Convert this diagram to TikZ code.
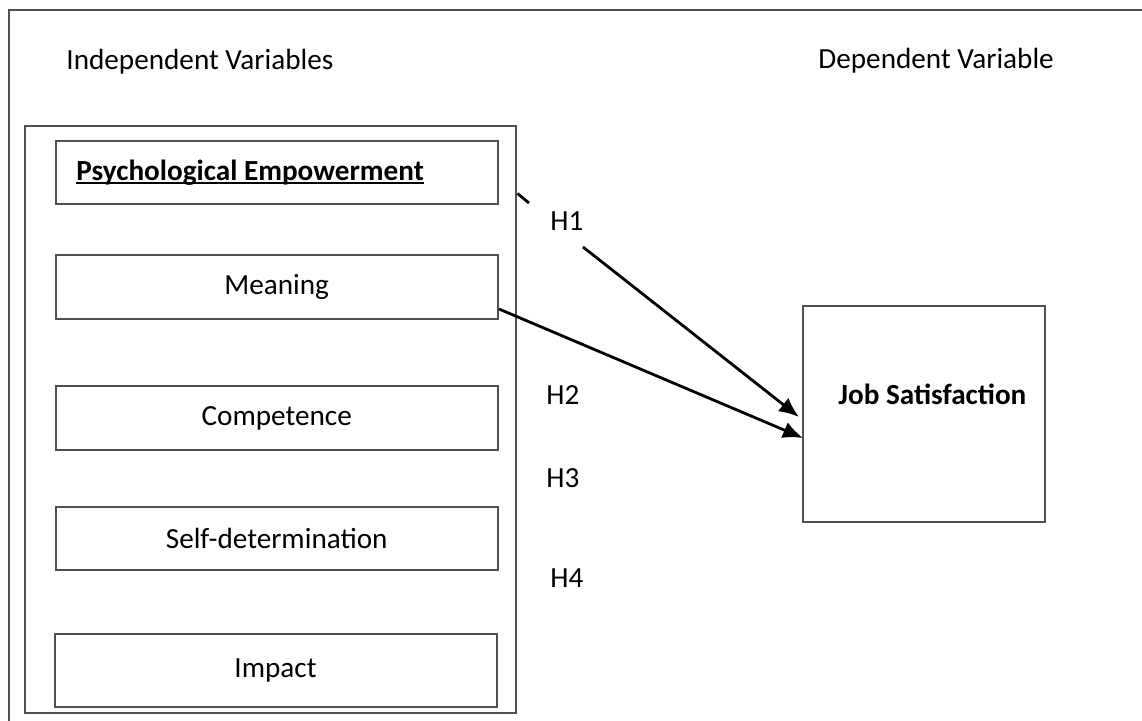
\documentclass[tikz,border=0pt]{standalone}
\usepackage{fontspec}
\setmainfont{Carlito}
\usetikzlibrary{arrows.meta}
\definecolor{boxgray}{RGB}{80,80,80}
\begin{document}
\begin{tikzpicture}[x=0.5pt,y=-0.5pt,
  txt/.style={font=\fontsize{14.6}{17}\selectfont, inner sep=0pt},
  lbl/.style={txt, anchor=base west},
  box/.style={draw=boxgray, line width=1pt, inner sep=0pt, txt, minimum width=221pt, minimum height=32pt},
  conn/.style={line width=1.4pt, draw=black, -{Latex[length=10pt,width=8.5pt]}},
  plainconn/.style={line width=1.4pt, draw=black}]
\clip (0,0) rectangle (1142,720);
% outer frame (runs past the right and bottom edges)
\draw[draw=boxgray, line width=1pt] (9,10) rectangle (1170,750);
% headings
\node[lbl] (indep) at (66,69) {Independent Variables};
\node[lbl] (dep) at (818,68) {Dependent Variable};
% big container
\node[draw=boxgray, line width=1pt, minimum width=245.5pt, minimum height=293.5pt, inner sep=0pt] (big) at (270.5,419.8) {};
% inner boxes
\node[box, minimum height=31.5pt] (pe) at (276.7,172.7) {};
\node[lbl, font=\fontsize{14.6}{17}\selectfont\bfseries] (pelabel) at (76,180) {Psychological Empowerment};
\draw[line width=1pt] ([yshift=-1.4pt]pelabel.base west) -- ([yshift=-1.4pt]pelabel.base east);
\node[box] (meaning) at (276.7,287) {Meaning};
\node[box] (comp) at (276.7,418) {Competence};
\node[box, minimum height=31.5pt] (selfdet) at (276.7,538.5) {Self-determination};
\node[box, minimum height=36.5pt] (impact) at (275.5,670.5) {Impact};
% dependent box
\node[draw=boxgray, line width=1pt, minimum width=121pt, minimum height=108pt, inner sep=0pt] (job) at (924,414) {};
\node[txt, font=\fontsize{14.6}{17}\selectfont\bfseries, anchor=base west] (joblabel) at (838,404) {Job Satisfaction};
% hypothesis labels
\node[lbl] (h1) at (550,230) {H1};
\node[lbl] (h2) at (546,404) {H2};
\node[lbl] (h3) at (546,487) {H3};
\node[lbl] (h4) at (550,587) {H4};
% connectors
\coordinate (d1) at (517.5,193.5);
\coordinate (d2) at (529,203);
\coordinate (d3) at (583,247);
\coordinate (t1) at (799,417);
\coordinate (s2) at (499,309);
\coordinate (t2) at (803,438);
\draw[plainconn] (d1) -- (d2);
\draw[conn] (d3) -- (t1);
\draw[conn] (s2) -- (t2);
\end{tikzpicture}
\end{document}
